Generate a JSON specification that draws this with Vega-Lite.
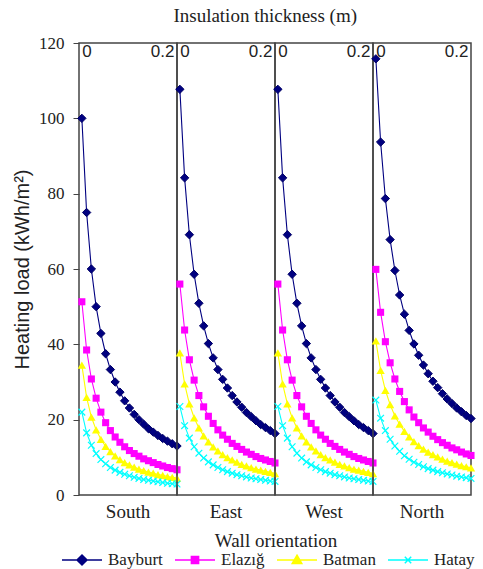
{
"$schema": "https://vega.github.io/schema/vega-lite/v6.json",
"background": "white",
"padding": {"left": 12, "top": 7, "right": 2, "bottom": 2},
"bounds": "flush",
"title": {"text": "Insulation thickness (m)", "font": "Liberation Serif", "fontSize": 19, "fontWeight": "normal", "color": "#222", "offset": 8, "anchor": "middle", "dx": 20},
"data": {"values": [
{"wall":"South","city":"Bayburt","t":0,"load":100},{"wall":"South","city":"Bayburt","t":0.01,"load":75},{"wall":"South","city":"Bayburt","t":0.02,"load":60},{"wall":"South","city":"Bayburt","t":0.03,"load":50},{"wall":"South","city":"Bayburt","t":0.04,"load":42.9},{"wall":"South","city":"Bayburt","t":0.05,"load":37.5},{"wall":"South","city":"Bayburt","t":0.06,"load":33.3},{"wall":"South","city":"Bayburt","t":0.07,"load":30},{"wall":"South","city":"Bayburt","t":0.08,"load":27.3},{"wall":"South","city":"Bayburt","t":0.09,"load":25},{"wall":"South","city":"Bayburt","t":0.1,"load":23.1},{"wall":"South","city":"Bayburt","t":0.11,"load":21.4},{"wall":"South","city":"Bayburt","t":0.12,"load":20},{"wall":"South","city":"Bayburt","t":0.13,"load":18.8},{"wall":"South","city":"Bayburt","t":0.14,"load":17.6},{"wall":"South","city":"Bayburt","t":0.15,"load":16.7},{"wall":"South","city":"Bayburt","t":0.16,"load":15.8},{"wall":"South","city":"Bayburt","t":0.17,"load":15},{"wall":"South","city":"Bayburt","t":0.18,"load":14.3},{"wall":"South","city":"Bayburt","t":0.19,"load":13.6},{"wall":"South","city":"Bayburt","t":0.2,"load":13},
{"wall":"South","city":"Elazığ","t":0,"load":51.3},{"wall":"South","city":"Elazığ","t":0.01,"load":38.5},{"wall":"South","city":"Elazığ","t":0.02,"load":30.8},{"wall":"South","city":"Elazığ","t":0.03,"load":25.7},{"wall":"South","city":"Elazığ","t":0.04,"load":22},{"wall":"South","city":"Elazığ","t":0.05,"load":19.2},{"wall":"South","city":"Elazığ","t":0.06,"load":17.1},{"wall":"South","city":"Elazığ","t":0.07,"load":15.4},{"wall":"South","city":"Elazığ","t":0.08,"load":14},{"wall":"South","city":"Elazığ","t":0.09,"load":12.8},{"wall":"South","city":"Elazığ","t":0.1,"load":11.8},{"wall":"South","city":"Elazığ","t":0.11,"load":11},{"wall":"South","city":"Elazığ","t":0.12,"load":10.3},{"wall":"South","city":"Elazığ","t":0.13,"load":9.6},{"wall":"South","city":"Elazığ","t":0.14,"load":9.1},{"wall":"South","city":"Elazığ","t":0.15,"load":8.6},{"wall":"South","city":"Elazığ","t":0.16,"load":8.1},{"wall":"South","city":"Elazığ","t":0.17,"load":7.7},{"wall":"South","city":"Elazığ","t":0.18,"load":7.3},{"wall":"South","city":"Elazığ","t":0.19,"load":7},{"wall":"South","city":"Elazığ","t":0.2,"load":6.7},
{"wall":"South","city":"Batman","t":0,"load":34.5},{"wall":"South","city":"Batman","t":0.01,"load":25.9},{"wall":"South","city":"Batman","t":0.02,"load":20.7},{"wall":"South","city":"Batman","t":0.03,"load":17.3},{"wall":"South","city":"Batman","t":0.04,"load":14.8},{"wall":"South","city":"Batman","t":0.05,"load":12.9},{"wall":"South","city":"Batman","t":0.06,"load":11.5},{"wall":"South","city":"Batman","t":0.07,"load":10.4},{"wall":"South","city":"Batman","t":0.08,"load":9.4},{"wall":"South","city":"Batman","t":0.09,"load":8.6},{"wall":"South","city":"Batman","t":0.1,"load":8},{"wall":"South","city":"Batman","t":0.11,"load":7.4},{"wall":"South","city":"Batman","t":0.12,"load":6.9},{"wall":"South","city":"Batman","t":0.13,"load":6.5},{"wall":"South","city":"Batman","t":0.14,"load":6.1},{"wall":"South","city":"Batman","t":0.15,"load":5.8},{"wall":"South","city":"Batman","t":0.16,"load":5.4},{"wall":"South","city":"Batman","t":0.17,"load":5.2},{"wall":"South","city":"Batman","t":0.18,"load":4.9},{"wall":"South","city":"Batman","t":0.19,"load":4.7},{"wall":"South","city":"Batman","t":0.2,"load":4.5},
{"wall":"South","city":"Hatay","t":0,"load":22},{"wall":"South","city":"Hatay","t":0.01,"load":16.5},{"wall":"South","city":"Hatay","t":0.02,"load":13.2},{"wall":"South","city":"Hatay","t":0.03,"load":11},{"wall":"South","city":"Hatay","t":0.04,"load":9.4},{"wall":"South","city":"Hatay","t":0.05,"load":8.3},{"wall":"South","city":"Hatay","t":0.06,"load":7.3},{"wall":"South","city":"Hatay","t":0.07,"load":6.6},{"wall":"South","city":"Hatay","t":0.08,"load":6},{"wall":"South","city":"Hatay","t":0.09,"load":5.5},{"wall":"South","city":"Hatay","t":0.1,"load":5.1},{"wall":"South","city":"Hatay","t":0.11,"load":4.7},{"wall":"South","city":"Hatay","t":0.12,"load":4.4},{"wall":"South","city":"Hatay","t":0.13,"load":4.1},{"wall":"South","city":"Hatay","t":0.14,"load":3.9},{"wall":"South","city":"Hatay","t":0.15,"load":3.7},{"wall":"South","city":"Hatay","t":0.16,"load":3.5},{"wall":"South","city":"Hatay","t":0.17,"load":3.3},{"wall":"South","city":"Hatay","t":0.18,"load":3.1},{"wall":"South","city":"Hatay","t":0.19,"load":3},{"wall":"South","city":"Hatay","t":0.2,"load":2.9},
{"wall":"East","city":"Bayburt","t":0,"load":107.7},{"wall":"East","city":"Bayburt","t":0.01,"load":84.2},{"wall":"East","city":"Bayburt","t":0.02,"load":69.1},{"wall":"East","city":"Bayburt","t":0.03,"load":58.6},{"wall":"East","city":"Bayburt","t":0.04,"load":50.9},{"wall":"East","city":"Bayburt","t":0.05,"load":44.9},{"wall":"East","city":"Bayburt","t":0.06,"load":40.2},{"wall":"East","city":"Bayburt","t":0.07,"load":36.4},{"wall":"East","city":"Bayburt","t":0.08,"load":33.3},{"wall":"East","city":"Bayburt","t":0.09,"load":30.7},{"wall":"East","city":"Bayburt","t":0.1,"load":28.4},{"wall":"East","city":"Bayburt","t":0.11,"load":26.4},{"wall":"East","city":"Bayburt","t":0.12,"load":24.7},{"wall":"East","city":"Bayburt","t":0.13,"load":23.3},{"wall":"East","city":"Bayburt","t":0.14,"load":21.9},{"wall":"East","city":"Bayburt","t":0.15,"load":20.8},{"wall":"East","city":"Bayburt","t":0.16,"load":19.7},{"wall":"East","city":"Bayburt","t":0.17,"load":18.7},{"wall":"East","city":"Bayburt","t":0.18,"load":17.9},{"wall":"East","city":"Bayburt","t":0.19,"load":17.1},{"wall":"East","city":"Bayburt","t":0.2,"load":16.3},
{"wall":"East","city":"Elazığ","t":0,"load":56},{"wall":"East","city":"Elazığ","t":0.01,"load":43.8},{"wall":"East","city":"Elazığ","t":0.02,"load":35.9},{"wall":"East","city":"Elazığ","t":0.03,"load":30.5},{"wall":"East","city":"Elazığ","t":0.04,"load":26.4},{"wall":"East","city":"Elazığ","t":0.05,"load":23.4},{"wall":"East","city":"Elazığ","t":0.06,"load":20.9},{"wall":"East","city":"Elazığ","t":0.07,"load":19},{"wall":"East","city":"Elazığ","t":0.08,"load":17.3},{"wall":"East","city":"Elazığ","t":0.09,"load":15.9},{"wall":"East","city":"Elazığ","t":0.1,"load":14.8},{"wall":"East","city":"Elazığ","t":0.11,"load":13.7},{"wall":"East","city":"Elazığ","t":0.12,"load":12.9},{"wall":"East","city":"Elazığ","t":0.13,"load":12.1},{"wall":"East","city":"Elazığ","t":0.14,"load":11.4},{"wall":"East","city":"Elazığ","t":0.15,"load":10.8},{"wall":"East","city":"Elazığ","t":0.16,"load":10.2},{"wall":"East","city":"Elazığ","t":0.17,"load":9.7},{"wall":"East","city":"Elazığ","t":0.18,"load":9.3},{"wall":"East","city":"Elazığ","t":0.19,"load":8.9},{"wall":"East","city":"Elazığ","t":0.2,"load":8.5},
{"wall":"East","city":"Batman","t":0,"load":37.7},{"wall":"East","city":"Batman","t":0.01,"load":29.5},{"wall":"East","city":"Batman","t":0.02,"load":24.2},{"wall":"East","city":"Batman","t":0.03,"load":20.5},{"wall":"East","city":"Batman","t":0.04,"load":17.8},{"wall":"East","city":"Batman","t":0.05,"load":15.7},{"wall":"East","city":"Batman","t":0.06,"load":14.1},{"wall":"East","city":"Batman","t":0.07,"load":12.8},{"wall":"East","city":"Batman","t":0.08,"load":11.7},{"wall":"East","city":"Batman","t":0.09,"load":10.7},{"wall":"East","city":"Batman","t":0.1,"load":9.9},{"wall":"East","city":"Batman","t":0.11,"load":9.3},{"wall":"East","city":"Batman","t":0.12,"load":8.7},{"wall":"East","city":"Batman","t":0.13,"load":8.1},{"wall":"East","city":"Batman","t":0.14,"load":7.7},{"wall":"East","city":"Batman","t":0.15,"load":7.3},{"wall":"East","city":"Batman","t":0.16,"load":6.9},{"wall":"East","city":"Batman","t":0.17,"load":6.6},{"wall":"East","city":"Batman","t":0.18,"load":6.3},{"wall":"East","city":"Batman","t":0.19,"load":6},{"wall":"East","city":"Batman","t":0.2,"load":5.7},
{"wall":"East","city":"Hatay","t":0,"load":23.5},{"wall":"East","city":"Hatay","t":0.01,"load":18.4},{"wall":"East","city":"Hatay","t":0.02,"load":15.1},{"wall":"East","city":"Hatay","t":0.03,"load":12.8},{"wall":"East","city":"Hatay","t":0.04,"load":11.1},{"wall":"East","city":"Hatay","t":0.05,"load":9.8},{"wall":"East","city":"Hatay","t":0.06,"load":8.8},{"wall":"East","city":"Hatay","t":0.07,"load":8},{"wall":"East","city":"Hatay","t":0.08,"load":7.3},{"wall":"East","city":"Hatay","t":0.09,"load":6.7},{"wall":"East","city":"Hatay","t":0.1,"load":6.2},{"wall":"East","city":"Hatay","t":0.11,"load":5.8},{"wall":"East","city":"Hatay","t":0.12,"load":5.4},{"wall":"East","city":"Hatay","t":0.13,"load":5.1},{"wall":"East","city":"Hatay","t":0.14,"load":4.8},{"wall":"East","city":"Hatay","t":0.15,"load":4.5},{"wall":"East","city":"Hatay","t":0.16,"load":4.3},{"wall":"East","city":"Hatay","t":0.17,"load":4.1},{"wall":"East","city":"Hatay","t":0.18,"load":3.9},{"wall":"East","city":"Hatay","t":0.19,"load":3.7},{"wall":"East","city":"Hatay","t":0.2,"load":3.6},
{"wall":"West","city":"Bayburt","t":0,"load":107.7},{"wall":"West","city":"Bayburt","t":0.01,"load":84.2},{"wall":"West","city":"Bayburt","t":0.02,"load":69.1},{"wall":"West","city":"Bayburt","t":0.03,"load":58.6},{"wall":"West","city":"Bayburt","t":0.04,"load":50.9},{"wall":"West","city":"Bayburt","t":0.05,"load":44.9},{"wall":"West","city":"Bayburt","t":0.06,"load":40.2},{"wall":"West","city":"Bayburt","t":0.07,"load":36.4},{"wall":"West","city":"Bayburt","t":0.08,"load":33.3},{"wall":"West","city":"Bayburt","t":0.09,"load":30.7},{"wall":"West","city":"Bayburt","t":0.1,"load":28.4},{"wall":"West","city":"Bayburt","t":0.11,"load":26.4},{"wall":"West","city":"Bayburt","t":0.12,"load":24.7},{"wall":"West","city":"Bayburt","t":0.13,"load":23.3},{"wall":"West","city":"Bayburt","t":0.14,"load":21.9},{"wall":"West","city":"Bayburt","t":0.15,"load":20.8},{"wall":"West","city":"Bayburt","t":0.16,"load":19.7},{"wall":"West","city":"Bayburt","t":0.17,"load":18.7},{"wall":"West","city":"Bayburt","t":0.18,"load":17.9},{"wall":"West","city":"Bayburt","t":0.19,"load":17.1},{"wall":"West","city":"Bayburt","t":0.2,"load":16.3},
{"wall":"West","city":"Elazığ","t":0,"load":56},{"wall":"West","city":"Elazığ","t":0.01,"load":43.8},{"wall":"West","city":"Elazığ","t":0.02,"load":35.9},{"wall":"West","city":"Elazığ","t":0.03,"load":30.5},{"wall":"West","city":"Elazığ","t":0.04,"load":26.4},{"wall":"West","city":"Elazığ","t":0.05,"load":23.4},{"wall":"West","city":"Elazığ","t":0.06,"load":20.9},{"wall":"West","city":"Elazığ","t":0.07,"load":19},{"wall":"West","city":"Elazığ","t":0.08,"load":17.3},{"wall":"West","city":"Elazığ","t":0.09,"load":15.9},{"wall":"West","city":"Elazığ","t":0.1,"load":14.8},{"wall":"West","city":"Elazığ","t":0.11,"load":13.7},{"wall":"West","city":"Elazığ","t":0.12,"load":12.9},{"wall":"West","city":"Elazığ","t":0.13,"load":12.1},{"wall":"West","city":"Elazığ","t":0.14,"load":11.4},{"wall":"West","city":"Elazığ","t":0.15,"load":10.8},{"wall":"West","city":"Elazığ","t":0.16,"load":10.2},{"wall":"West","city":"Elazığ","t":0.17,"load":9.7},{"wall":"West","city":"Elazığ","t":0.18,"load":9.3},{"wall":"West","city":"Elazığ","t":0.19,"load":8.9},{"wall":"West","city":"Elazığ","t":0.2,"load":8.5},
{"wall":"West","city":"Batman","t":0,"load":37.7},{"wall":"West","city":"Batman","t":0.01,"load":29.5},{"wall":"West","city":"Batman","t":0.02,"load":24.2},{"wall":"West","city":"Batman","t":0.03,"load":20.5},{"wall":"West","city":"Batman","t":0.04,"load":17.8},{"wall":"West","city":"Batman","t":0.05,"load":15.7},{"wall":"West","city":"Batman","t":0.06,"load":14.1},{"wall":"West","city":"Batman","t":0.07,"load":12.8},{"wall":"West","city":"Batman","t":0.08,"load":11.7},{"wall":"West","city":"Batman","t":0.09,"load":10.7},{"wall":"West","city":"Batman","t":0.1,"load":9.9},{"wall":"West","city":"Batman","t":0.11,"load":9.3},{"wall":"West","city":"Batman","t":0.12,"load":8.7},{"wall":"West","city":"Batman","t":0.13,"load":8.1},{"wall":"West","city":"Batman","t":0.14,"load":7.7},{"wall":"West","city":"Batman","t":0.15,"load":7.3},{"wall":"West","city":"Batman","t":0.16,"load":6.9},{"wall":"West","city":"Batman","t":0.17,"load":6.6},{"wall":"West","city":"Batman","t":0.18,"load":6.3},{"wall":"West","city":"Batman","t":0.19,"load":6},{"wall":"West","city":"Batman","t":0.2,"load":5.7},
{"wall":"West","city":"Hatay","t":0,"load":23.5},{"wall":"West","city":"Hatay","t":0.01,"load":18.4},{"wall":"West","city":"Hatay","t":0.02,"load":15.1},{"wall":"West","city":"Hatay","t":0.03,"load":12.8},{"wall":"West","city":"Hatay","t":0.04,"load":11.1},{"wall":"West","city":"Hatay","t":0.05,"load":9.8},{"wall":"West","city":"Hatay","t":0.06,"load":8.8},{"wall":"West","city":"Hatay","t":0.07,"load":8},{"wall":"West","city":"Hatay","t":0.08,"load":7.3},{"wall":"West","city":"Hatay","t":0.09,"load":6.7},{"wall":"West","city":"Hatay","t":0.1,"load":6.2},{"wall":"West","city":"Hatay","t":0.11,"load":5.8},{"wall":"West","city":"Hatay","t":0.12,"load":5.4},{"wall":"West","city":"Hatay","t":0.13,"load":5.1},{"wall":"West","city":"Hatay","t":0.14,"load":4.8},{"wall":"West","city":"Hatay","t":0.15,"load":4.5},{"wall":"West","city":"Hatay","t":0.16,"load":4.3},{"wall":"West","city":"Hatay","t":0.17,"load":4.1},{"wall":"West","city":"Hatay","t":0.18,"load":3.9},{"wall":"West","city":"Hatay","t":0.19,"load":3.7},{"wall":"West","city":"Hatay","t":0.2,"load":3.6},
{"wall":"North","city":"Bayburt","t":0,"load":115.8},{"wall":"North","city":"Bayburt","t":0.01,"load":93.7},{"wall":"North","city":"Bayburt","t":0.02,"load":78.7},{"wall":"North","city":"Bayburt","t":0.03,"load":67.8},{"wall":"North","city":"Bayburt","t":0.04,"load":59.6},{"wall":"North","city":"Bayburt","t":0.05,"load":53.1},{"wall":"North","city":"Bayburt","t":0.06,"load":48},{"wall":"North","city":"Bayburt","t":0.07,"load":43.7},{"wall":"North","city":"Bayburt","t":0.08,"load":40.1},{"wall":"North","city":"Bayburt","t":0.09,"load":37.1},{"wall":"North","city":"Bayburt","t":0.1,"load":34.5},{"wall":"North","city":"Bayburt","t":0.11,"load":32.2},{"wall":"North","city":"Bayburt","t":0.12,"load":30.2},{"wall":"North","city":"Bayburt","t":0.13,"load":28.5},{"wall":"North","city":"Bayburt","t":0.14,"load":26.9},{"wall":"North","city":"Bayburt","t":0.15,"load":25.5},{"wall":"North","city":"Bayburt","t":0.16,"load":24.3},{"wall":"North","city":"Bayburt","t":0.17,"load":23.1},{"wall":"North","city":"Bayburt","t":0.18,"load":22.1},{"wall":"North","city":"Bayburt","t":0.19,"load":21.1},{"wall":"North","city":"Bayburt","t":0.2,"load":20.3},
{"wall":"North","city":"Elazığ","t":0,"load":59.9},{"wall":"North","city":"Elazığ","t":0.01,"load":48.5},{"wall":"North","city":"Elazığ","t":0.02,"load":40.7},{"wall":"North","city":"Elazığ","t":0.03,"load":35.1},{"wall":"North","city":"Elazığ","t":0.04,"load":30.8},{"wall":"North","city":"Elazığ","t":0.05,"load":27.5},{"wall":"North","city":"Elazığ","t":0.06,"load":24.8},{"wall":"North","city":"Elazığ","t":0.07,"load":22.6},{"wall":"North","city":"Elazığ","t":0.08,"load":20.7},{"wall":"North","city":"Elazığ","t":0.09,"load":19.2},{"wall":"North","city":"Elazığ","t":0.1,"load":17.8},{"wall":"North","city":"Elazığ","t":0.11,"load":16.7},{"wall":"North","city":"Elazığ","t":0.12,"load":15.6},{"wall":"North","city":"Elazığ","t":0.13,"load":14.7},{"wall":"North","city":"Elazığ","t":0.14,"load":13.9},{"wall":"North","city":"Elazığ","t":0.15,"load":13.2},{"wall":"North","city":"Elazığ","t":0.16,"load":12.5},{"wall":"North","city":"Elazığ","t":0.17,"load":12},{"wall":"North","city":"Elazığ","t":0.18,"load":11.4},{"wall":"North","city":"Elazığ","t":0.19,"load":10.9},{"wall":"North","city":"Elazığ","t":0.2,"load":10.5},
{"wall":"North","city":"Batman","t":0,"load":40.9},{"wall":"North","city":"Batman","t":0.01,"load":33.1},{"wall":"North","city":"Batman","t":0.02,"load":27.8},{"wall":"North","city":"Batman","t":0.03,"load":24},{"wall":"North","city":"Batman","t":0.04,"load":21},{"wall":"North","city":"Batman","t":0.05,"load":18.8},{"wall":"North","city":"Batman","t":0.06,"load":16.9},{"wall":"North","city":"Batman","t":0.07,"load":15.4},{"wall":"North","city":"Batman","t":0.08,"load":14.2},{"wall":"North","city":"Batman","t":0.09,"load":13.1},{"wall":"North","city":"Batman","t":0.1,"load":12.2},{"wall":"North","city":"Batman","t":0.11,"load":11.4},{"wall":"North","city":"Batman","t":0.12,"load":10.7},{"wall":"North","city":"Batman","t":0.13,"load":10.1},{"wall":"North","city":"Batman","t":0.14,"load":9.5},{"wall":"North","city":"Batman","t":0.15,"load":9},{"wall":"North","city":"Batman","t":0.16,"load":8.6},{"wall":"North","city":"Batman","t":0.17,"load":8.2},{"wall":"North","city":"Batman","t":0.18,"load":7.8},{"wall":"North","city":"Batman","t":0.19,"load":7.5},{"wall":"North","city":"Batman","t":0.2,"load":7.2},
{"wall":"North","city":"Hatay","t":0,"load":25.2},{"wall":"North","city":"Hatay","t":0.01,"load":20.4},{"wall":"North","city":"Hatay","t":0.02,"load":17.1},{"wall":"North","city":"Hatay","t":0.03,"load":14.8},{"wall":"North","city":"Hatay","t":0.04,"load":13},{"wall":"North","city":"Hatay","t":0.05,"load":11.6},{"wall":"North","city":"Hatay","t":0.06,"load":10.4},{"wall":"North","city":"Hatay","t":0.07,"load":9.5},{"wall":"North","city":"Hatay","t":0.08,"load":8.7},{"wall":"North","city":"Hatay","t":0.09,"load":8.1},{"wall":"North","city":"Hatay","t":0.1,"load":7.5},{"wall":"North","city":"Hatay","t":0.11,"load":7},{"wall":"North","city":"Hatay","t":0.12,"load":6.6},{"wall":"North","city":"Hatay","t":0.13,"load":6.2},{"wall":"North","city":"Hatay","t":0.14,"load":5.9},{"wall":"North","city":"Hatay","t":0.15,"load":5.6},{"wall":"North","city":"Hatay","t":0.16,"load":5.3},{"wall":"North","city":"Hatay","t":0.17,"load":5},{"wall":"North","city":"Hatay","t":0.18,"load":4.8},{"wall":"North","city":"Hatay","t":0.19,"load":4.6},{"wall":"North","city":"Hatay","t":0.2,"load":4.4}
]},
"facet": {"column": {"field": "wall", "type": "nominal", "sort": ["South", "East", "West", "North"],
  "header": {"labelOrient": "bottom", "titleOrient": "bottom", "title": "Wall orientation",
    "labelFont": "Liberation Serif", "labelFontSize": 19, "labelColor": "#222", "labelPadding": 8,
    "titleFont": "Liberation Serif", "titleFontSize": 19, "titleFontWeight": "normal", "titleColor": "#222", "titlePadding": 0}}},
"spacing": 0,
"spec": {
  "width": 98,
  "height": 452,
  "encoding": {
    "x": {"field": "t", "type": "quantitative",
      "scale": {"domain": [-0.006, 0.2], "nice": false, "zero": false},
      "axis": {"orient": "top", "values": [0, 0.2], "format": "~g", "labelFlush": false,
        "labelAlign": {"condition": {"test": "datum.value === 0", "value": "left"}, "value": "right"},
        "labelOffset": {"condition": {"test": "datum.value === 0", "value": 0}, "value": -3},
        "ticks": false, "tickSize": 0, "domain": false, "grid": false, "labelPadding": -17, "title": null, "labelFont": "Liberation Sans", "labelFontSize": 17, "labelColor": "#222", "labelOverlap": false}},
    "y": {"field": "load", "type": "quantitative",
      "scale": {"domain": [0, 120], "nice": false},
      "axis": {"values": [0, 20, 40, 60, 80, 100, 120], "grid": false, "domain": false, "tickSize": 6, "tickColor": "#444", "labelPadding": 9,
        "labelFont": "Liberation Serif", "labelFontSize": 17, "labelColor": "#222",
        "title": "Heating load (kWh/m²)", "titleFont": "Liberation Sans", "titleFontSize": 20, "titleFontWeight": "normal", "titleColor": "#222", "titlePadding": 6}},
    "color": {"field": "city", "type": "nominal",
        "scale": {"domain": ["Bayburt", "Elazığ", "Batman", "Hatay"], "range": ["#000080", "#ff00ff", "#ffff00", "#00ffff"]},
        "legend": {"orient": "none", "legendX": -18, "legendY": 506, "direction": "horizontal", "title": null,
          "labelFont": "Liberation Serif", "labelFontSize": 17, "labelColor": "#222",
          "symbolSize": 400, "labelOffset": 25, "columnPadding": 9,
          "encode": {"symbols": {"update": {
            "shape": {"signal": "datum.value === 'Bayburt' ? 'M-1,0L3,0M1,-0.5L1.5,0L1,0.5L0.5,0Z' : datum.value === 'Elazığ' ? 'M-1,0L3,0M0.64,-0.36L1.36,-0.36L1.36,0.36L0.64,0.36Z' : datum.value === 'Batman' ? 'M-1,0L3,0M1,-0.48L1.48,0.36L0.52,0.36Z' : 'M-1,0L3,0M0.68,-0.32L1.32,0.32M0.68,0.32L1.32,-0.32'"},
            "fill": {"signal": "datum.value === 'Bayburt' ? '#000080' : datum.value === 'Elazığ' ? '#ff00ff' : datum.value === 'Batman' ? '#ffff00' : '#00ffff'"},
            "stroke": {"signal": "datum.value === 'Bayburt' ? '#000080' : datum.value === 'Elazığ' ? '#ff00ff' : datum.value === 'Batman' ? '#ffff00' : '#00ffff'"},
            "strokeWidth": {"value": 1.5},
            "opacity": {"value": 1}
          }}}}}
  },
  "layer": [
    {"mark": {"type": "line", "strokeWidth": 1.1}},
    {"transform": [{"filter": "datum.city === 'Bayburt'"}],
     "mark": {"type": "point", "filled": true, "size": 70, "shape": "diamond", "opacity": 1, "stroke": "#000066", "strokeWidth": 1}},
    {"transform": [{"filter": "datum.city === 'Elazığ'"}],
     "mark": {"type": "point", "filled": true, "size": 50, "shape": "square", "opacity": 1}},
    {"transform": [{"filter": "datum.city === 'Batman'"}],
     "mark": {"type": "point", "filled": true, "size": 70, "shape": "triangle-up", "opacity": 1}},
    {"transform": [{"filter": "datum.city === 'Hatay'"}],
     "mark": {"type": "point", "filled": false, "size": 45, "shape": "M-1,-1L1,1M-1,1L1,-1", "opacity": 1, "strokeWidth": 1.2}}
  ]
},
"config": {
  "view": {"stroke": "#444", "strokeWidth": 1.5},
  "axis": {"labelFontWeight": "normal"}
}
}
